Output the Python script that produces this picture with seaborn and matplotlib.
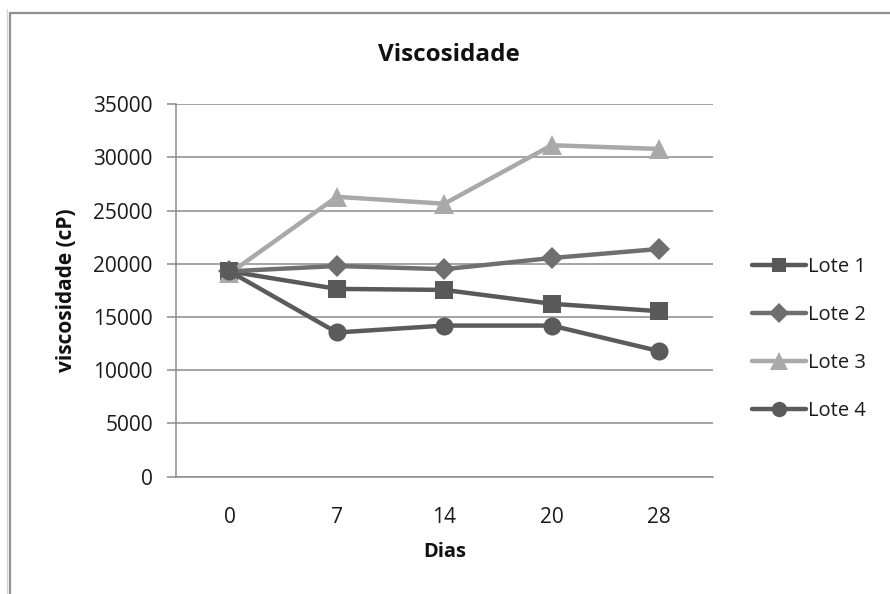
import numpy as np
import pandas as pd
import matplotlib
matplotlib.use("Agg")
import matplotlib.pyplot as plt
from matplotlib.lines import Line2D
import seaborn as sns

# Days of measurement (categorical axis)
dias = ["0", "7", "14", "20", "28"]

# Viscosity (cP) per batch
lote_1 = [19300, 17650, 17550, 16250, 15550]
lote_2 = [19300, 19800, 19500, 20550, 21400]
lote_3 = [19100, 26300, 25650, 31150, 30800]
lote_4 = [19300, 13550, 14200, 14200, 11800]

lotes = ["Lote 1", "Lote 2", "Lote 3", "Lote 4"]
series = [lote_1, lote_2, lote_3, lote_4]

y_ticks = [0, 5000, 10000, 15000, 20000, 25000, 30000, 35000]

df = pd.DataFrame({
    "Dias": dias * len(lotes),
    "viscosidade": np.concatenate(series),
    "Lote": np.repeat(lotes, len(dias)),
})

sns.set_theme(style="white")
plt.rcParams["font.family"] = ["Open Sans", "DejaVu Sans"]

colors = ["#595959", "#6f6f6f", "#a9a9a9", "#5b5b5b"]
markers = ["s", "D", "^", "o"]
msizes = [12.5, 11.5, 14.5, 13]

fig = plt.figure(figsize=(8.9, 5.94), dpi=100)
ax = fig.add_axes([0.1975, 0.1975, 0.6035, 0.627])

sns.pointplot(data=df, x="Dias", y="viscosidade", hue="Lote",
              order=dias, hue_order=lotes, palette=colors,
              markers=markers, linestyles="-", errorbar=None,
              linewidth=3.2, ax=ax)

# per-series marker sizes
for line, ms in zip([l for l in ax.lines if len(l.get_xdata()) == len(dias)], msizes):
    line.set_markersize(ms)
    line.set_markeredgewidth(0)
    line.set_zorder(3)

ax.set_xlim(-0.5, len(dias) - 0.5)
ax.set_ylim(0, 35000)
ax.set_yticks(y_ticks)
ax.set_yticklabels([str(v) for v in y_ticks])

ax.yaxis.grid(True, color="#8c8c8c", linewidth=1.1)
ax.set_axisbelow(True)
for side in ["top", "right"]:
    ax.spines[side].set_visible(False)
ax.spines["left"].set_color("#8c8c8c")
ax.spines["bottom"].set_color("#8c8c8c")
ax.spines["left"].set_linewidth(1.1)
ax.spines["bottom"].set_linewidth(1.1)

ax.tick_params(axis="y", which="both", left=True, length=6.5, width=1.1,
               color="#8c8c8c", pad=10, labelsize=15, labelcolor="#1a1a1a")
ax.tick_params(axis="x", which="both", bottom=False, pad=16,
               labelsize=15, labelcolor="#1a1a1a")

ax.set_xlabel("Dias", fontsize=14.5, fontweight="bold", color="#111111", labelpad=10)
ax.set_ylabel("viscosidade (cP)", fontsize=15, fontweight="bold", color="#111111", labelpad=12)

fig.text(0.5045, 0.907, "Viscosidade", ha="center", va="center",
         fontsize=17.5, fontweight="bold", color="#111111")

handles = [Line2D([0], [0], color=c, marker=m, markersize=ms * 0.85,
                  markeredgewidth=0, linewidth=3.2)
           for c, m, ms in zip(colors, markers, msizes)]
ax.legend(handles, lotes, loc="center left", bbox_to_anchor=(0.845, 0.429),
          bbox_transform=fig.transFigure, frameon=False, fontsize=14.5,
          handlelength=2.7, handletextpad=0.1, labelspacing=1.4,
          borderpad=0, borderaxespad=0, labelcolor="#1a1a1a")

# outer chart frame
fig.add_artist(Line2D([10 / 890, 1.0], [1 - 12.5 / 594] * 2, transform=fig.transFigure,
                      color="#8f8f8f", linewidth=1.6))
fig.add_artist(Line2D([10 / 890] * 2, [0.0, 1 - 12.5 / 594], transform=fig.transFigure,
                      color="#8f8f8f", linewidth=1.6))
fig.add_artist(Line2D([6.5 / 890] * 2, [0.0, 1 - 9 / 594], transform=fig.transFigure,
                      color="#d4d4d4", linewidth=1))

fig.savefig("out.png", dpi=100, facecolor="white")
